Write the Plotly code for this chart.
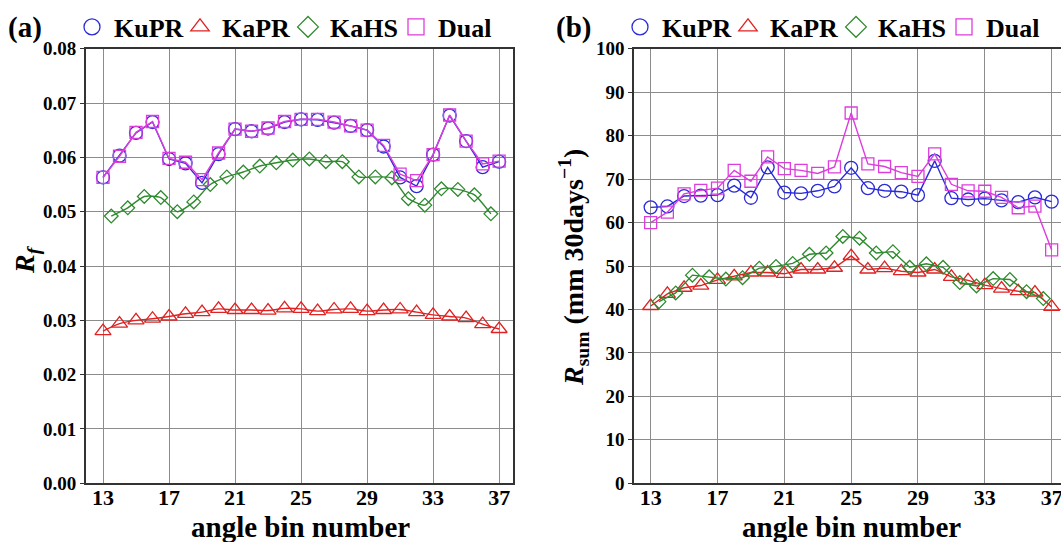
import plotly.graph_objects as go

W, H = 1061, 542

# ---------------- data ----------------
bins = list(range(13, 38))                      # KuPR / KaPR / Dual angle bins
bins_hs = [b + 0.5 for b in range(13, 37)]      # KaHS (interlaced) bins

kupr_a = [0.0563, 0.0603, 0.0645, 0.0665, 0.0597, 0.0589, 0.0553, 0.0606, 0.0652, 0.0648,
          0.0653, 0.0665, 0.0670, 0.0669, 0.0664, 0.0658, 0.0650, 0.0620, 0.0563, 0.0547,
          0.0605, 0.0677, 0.0630, 0.0582, 0.0592]
kapr_a = [0.0280, 0.0294, 0.0300, 0.0303, 0.0307, 0.0312, 0.0315, 0.0321, 0.0319, 0.0319,
          0.0318, 0.0322, 0.0321, 0.0317, 0.0320, 0.0321, 0.0317, 0.0319, 0.0320, 0.0315,
          0.0310, 0.0307, 0.0304, 0.0293, 0.0284]
kahs_a = [0.0492, 0.0507, 0.0528, 0.0526, 0.0500, 0.0518, 0.0550, 0.0564, 0.0573, 0.0584,
          0.0590, 0.0595, 0.0597, 0.0592, 0.0592, 0.0564, 0.0564, 0.0562, 0.0524, 0.0512,
          0.0542, 0.0541, 0.0531, 0.0496]
dual_a = [0.0563, 0.0602, 0.0646, 0.0666, 0.0598, 0.0591, 0.0559, 0.0608, 0.0652, 0.0648,
          0.0654, 0.0666, 0.0670, 0.0670, 0.0665, 0.0658, 0.0650, 0.0622, 0.0569, 0.0557,
          0.0605, 0.0678, 0.0630, 0.0588, 0.0593]

kupr_b = [63.5, 63.7, 66.1, 66.2, 66.3, 68.5, 65.7, 72.7, 66.9, 66.7, 67.3, 68.3, 72.6,
          67.9, 67.3, 67.1, 66.3, 74.2, 65.6, 65.3, 65.5, 65.1, 64.7, 65.8, 64.8]
kapr_b = [40.8, 43.6, 45.0, 45.5, 46.8, 47.6, 48.5, 48.5, 48.2, 49.2, 49.2, 49.6, 52.3,
          49.2, 49.5, 48.8, 48.5, 49.2, 47.5, 46.7, 45.6, 44.8, 44.2, 43.9, 40.6]
kahs_b = [41.8, 43.8, 47.9, 47.5, 47.0, 47.3, 49.5, 49.9, 50.6, 52.7, 53.0, 56.8, 56.4,
          53.0, 53.3, 49.7, 50.5, 49.7, 46.2, 45.4, 47.1, 46.9, 44.1, 42.5]
dual_b = [60.0, 62.4, 66.6, 67.4, 67.9, 72.0, 69.5, 75.1, 72.4, 72.0, 71.3, 72.8, 85.2,
          73.5, 72.9, 71.5, 70.6, 75.8, 68.8, 67.3, 67.2, 65.8, 63.4, 63.8, 53.7]

x_ticks = [13, 17, 21, 25, 29, 33, 37]
names = ["KuPR", "KaPR", "KaHS", "Dual"]

# ---------------- styles ----------------
FONT = "Liberation Serif"
C_BLUE, C_RED, C_GREEN, C_MAG = "#2a2ad8", "#e02222", "#2f8a2f", "#dd3ddd"
styles = {
    "KuPR": dict(color=C_BLUE, symbol="circle-open", size=13),
    "KaPR": dict(color=C_RED, symbol="triangle-up-open", size=14),
    "KaHS": dict(color=C_GREEN, symbol="diamond-open", size=10.5),
    "Dual": dict(color=C_MAG, symbol="square-open", size=12),
}

fig = go.Figure()


def marker_of(name, size=None):
    s = styles[name]
    return dict(symbol=s["symbol"], size=size or s["size"], color=s["color"],
                line=dict(color=s["color"], width=1.3))


def add(name, x, y, xa, ya, shape="linear", smooth=None):
    s = styles[name]
    line = dict(color=s["color"], width=1.4, shape=shape)
    if smooth is not None:
        line["smoothing"] = smooth
    fig.add_trace(go.Scatter(
        x=x, y=y, name=name, mode="lines+markers", xaxis=xa, yaxis=ya,
        showlegend=False, line=line, marker=marker_of(name),
    ))


def add_legend_entries(xa, ya, legend):
    for n in names:
        fig.add_trace(go.Scatter(
            x=[None], y=[None], name=n, mode="markers", xaxis=xa, yaxis=ya,
            legend=legend, showlegend=True, marker=marker_of(n, 16),
        ))


add("KuPR", bins, kupr_a, "x", "y")
add("KaPR", bins, kapr_a, "x", "y", "spline", 1.0)
add("KaHS", bins_hs, kahs_a, "x", "y", "spline", 0.6)
add("Dual", bins, dual_a, "x", "y")

add("KuPR", bins, kupr_b, "x2", "y2")
add("KaPR", bins, kapr_b, "x2", "y2")
add("KaHS", bins_hs, kahs_b, "x2", "y2")
add("Dual", bins, dual_b, "x2", "y2")

add_legend_entries("x", "y", "legend")
add_legend_entries("x2", "y2", "legend2")

GRID = "#8c8c8c"
AXL = "#333333"
tick_y = dict(family=FONT, size=19, color="black", weight="bold")
tick_x = dict(family=FONT, size=22, color="black", weight="bold")

ydom = [(H - 483.3) / H, (H - 48.7) / H]

common_x = dict(tickvals=x_ticks, showgrid=True, gridcolor=GRID, gridwidth=1,
                showline=True, linecolor=AXL, linewidth=2, mirror=True,
                ticks="", ticklen=0, zeroline=False, tickfont=tick_x, automargin=False,
                ticklabeloverflow="allow", ticklabelstandoff=-7)
common_y = dict(showgrid=True, gridcolor=GRID, gridwidth=1, showline=True,
                linecolor=AXL, linewidth=2, ticks="outside", ticklen=4,
                tickcolor=AXL, zeroline=False, tickfont=tick_y, automargin=False)

legend_common = dict(orientation="h", font=dict(family=FONT, size=26, color="black", weight="bold"),
                     bgcolor="rgba(0,0,0,0)", borderwidth=0, entrywidth=59, itemwidth=34,
                     entrywidthmode="pixels", yanchor="middle", xanchor="left",
                     itemclick=False, itemdoubleclick=False)

fig.update_layout(
    width=W, height=H,
    margin=dict(l=0, r=0, t=0, b=0),
    paper_bgcolor="white", plot_bgcolor="white",
    font=dict(family=FONT, color="black"),
    xaxis=dict(domain=[86 / W, 512.5 / W], range=[11.97, 37.81], anchor="y", **common_x),
    yaxis=dict(domain=ydom, range=[0, 0.08], dtick=0.01, tickformat=".2f", anchor="x",
               mirror=True, **common_y),
    xaxis2=dict(domain=[634.3 / W, 1.0], range=[12.02, 37.56], anchor="y2", **common_x),
    yaxis2=dict(domain=ydom, range=[0, 100], dtick=10, anchor="x2", mirror=False, **common_y),
    legend=dict(x=70 / W, y=1 - 27 / H, **legend_common),
    legend2=dict(x=618 / W, y=1 - 27 / H, **legend_common),
    showlegend=True,
)

ann_font = dict(family=FONT, size=29, color="black", weight="bold")
title_font = dict(family=FONT, size=29, color="black", weight="bold")
yt_font = dict(family=FONT, size=28, color="black", weight="bold")

annotations = [
    dict(text="(a)", x=25 / W, y=1 - 28 / H, font=ann_font),
    dict(text="(b)", x=573 / W, y=1 - 28 / H, font=ann_font),
    dict(text="angle bin number", x=300 / W, y=1 - 527 / H, font=title_font),
    dict(text="angle bin number", x=851 / W, y=1 - 527 / H, font=title_font),
    dict(text="<i>R</i><sub><i>f</i></sub>", x=27 / W, y=1 - 260 / H, textangle=-90, font=yt_font),
    dict(text="<i>R</i><sub>sum</sub> (mm 30days<sup>\u22121</sup>)", x=573 / W, y=1 - 268 / H,
         textangle=-90, font=dict(family=FONT, size=28, color="black", weight="bold")),
]
for a in annotations:
    a.update(xref="paper", yref="paper", showarrow=False, xanchor="center", yanchor="middle")
fig.update_layout(annotations=annotations)

fig.write_html("out.html")
